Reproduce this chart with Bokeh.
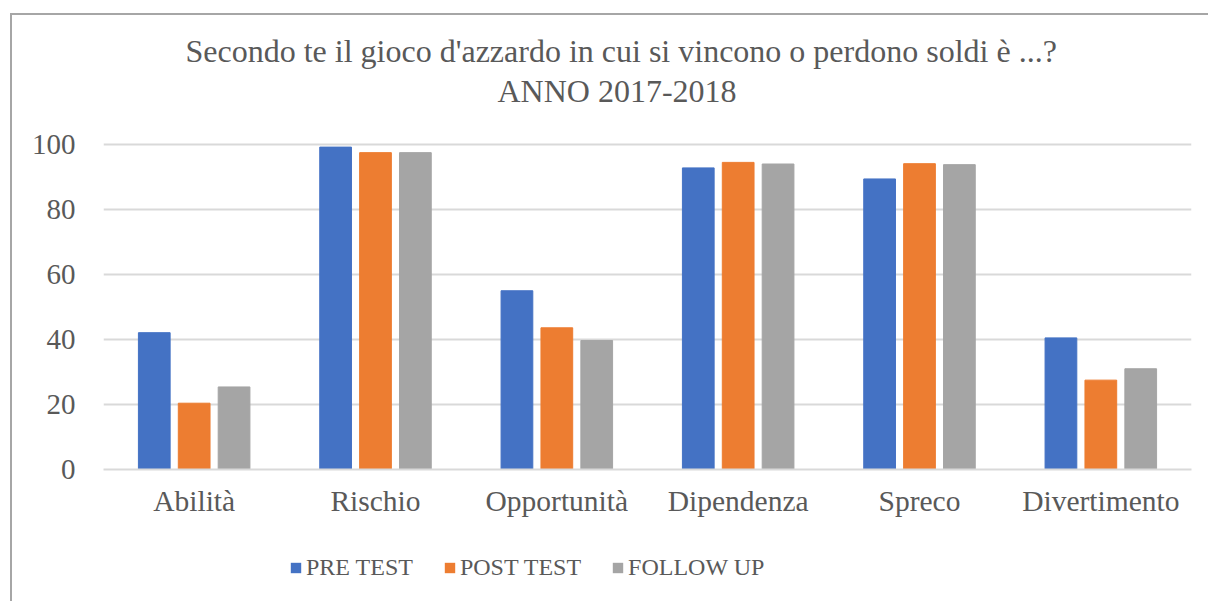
from bokeh.plotting import figure
from bokeh.layouts import column
from bokeh.models import FactorRange, Range1d, Legend, LegendItem, Title, ColumnDataSource
from bokeh.transform import dodge
from bokeh.embed import file_html
from bokeh.resources import INLINE

categories = ["Abilità", "Rischio", "Opportunità", "Dipendenza", "Spreco", "Divertimento"]
pre_test = [42.1, 99.2, 55.0, 92.8, 89.4, 40.5]
post_test = [20.4, 97.5, 43.6, 94.5, 94.1, 27.5]
follow_up = [25.4, 97.5, 39.7, 94.0, 93.8, 31.0]
series_names = ["PRE TEST", "POST TEST", "FOLLOW UP"]
series_colors = ["#4472C4", "#ED7D31", "#A5A5A5"]
y_ticks = [0, 20, 40, 60, 80, 100]
title_line1 = "Secondo te il gioco d'azzardo in cui si vincono o perdono soldi è ...?"
title_line2 = "ANNO 2017-2018"

FONT = "Liberation Serif"
TEXT = "#595959"

# layout numbers (pixels)
W = 1196
HP = 526
HL = 60
TOP_BORDER = 95           # frame top sits above the 100 gridline to leave room for titles
PLOT_H = 325              # pixels from 0 to 100
EXTRA_TOP_PX = 144 - (15 + TOP_BORDER)
y_end = 100 + EXTRA_TOP_PX * 100.0 / PLOT_H

src = ColumnDataSource(dict(cat=categories, pre=pre_test, post=post_test, fol=follow_up))
cols = ["pre", "post", "fol"]
offsets = [-0.22, 0.0, 0.22]

p = figure(x_range=FactorRange(factors=categories, range_padding=0),
           y_range=Range1d(0, y_end),
           width=W, height=HP, output_backend="svg", toolbar_location=None,
           min_border_left=91, min_border_right=17, min_border_top=TOP_BORDER, min_border_bottom=72,
           title=title_line1)

p.title.text_font = FONT
p.title.text_font_size = "32px"
p.title.text_font_style = "normal"
p.title.text_color = TEXT
p.title.align = "left"
p.title.offset = 82
p.title.standoff = 0
t2 = Title(text=title_line2, text_font=FONT, text_font_size="32px", text_font_style="normal",
           text_color=TEXT, align="left", offset=394, standoff=4)
p.add_layout(t2, "above")

for off, col, color in zip(offsets, cols, series_colors):
    p.vbar(x=dodge("cat", off, range=p.x_range), top=col, width=0.175, source=src,
           fill_color=color, line_color=color)

p.yaxis.ticker = y_ticks
p.yaxis.axis_line_color = None
p.yaxis.major_tick_line_color = None
p.yaxis.minor_tick_line_color = None
p.yaxis.major_tick_out = 0
p.yaxis.major_tick_in = 0
p.yaxis.major_label_standoff = 28
p.yaxis.major_label_text_font = FONT
p.yaxis.major_label_text_font_size = "29px"
p.yaxis.major_label_text_color = TEXT

p.xaxis.axis_line_color = "#d9d9d9"
p.xaxis.axis_line_width = 2
p.xaxis.major_tick_line_color = None
p.xaxis.minor_tick_line_color = None
p.xaxis.major_tick_out = 0
p.xaxis.major_tick_in = 0
p.xaxis.major_label_standoff = 15
p.xaxis.major_label_text_font = FONT
p.xaxis.major_label_text_font_size = "29.5px"
p.xaxis.major_label_text_color = TEXT

p.xgrid.grid_line_color = None
p.ygrid.grid_line_color = "#d9d9d9"
p.ygrid.grid_line_width = 2
p.outline_line_color = None
p.background_fill_color = "white"
p.border_fill_color = "white"

# legend strip (shares the category axis; its zero-height bars only feed the legend swatches)
lp = figure(width=W, height=HL, output_backend="svg", toolbar_location=None,
            x_range=p.x_range, y_range=Range1d(0, 100),
            x_axis_type=None, y_axis_type=None,
            min_border_left=91, min_border_right=17, min_border_top=0, min_border_bottom=0)
lp.grid.grid_line_color = None
lp.outline_line_color = None
lp.background_fill_color = "white"
lp.border_fill_color = "white"
items = []
for name, off, col, color in zip(series_names, offsets, cols, series_colors):
    r = lp.vbar(x=dodge("cat", off, range=lp.x_range), top=col, bottom=col, width=0.175, source=src,
                fill_color=color, line_color=None)
    items.append(LegendItem(label=name, renderers=[r]))
legend = Legend(items=items, orientation="horizontal", location=(186, 20),
                label_text_font=FONT, label_text_font_size="24px", label_text_color=TEXT,
                glyph_width=13, glyph_height=13, label_standoff=4, spacing=30,
                padding=0, margin=0, border_line_color=None, background_fill_alpha=0)
lp.add_layout(legend, "center")

layout = column(p, lp, spacing=0)
layout.margin = (13, 0, 0, 10)
layout.styles = {"border-top": "2px solid #a6a6a6", "border-left": "2px solid #a6a6a6"}

open("out.html", "w").write(file_html(layout, INLINE))
